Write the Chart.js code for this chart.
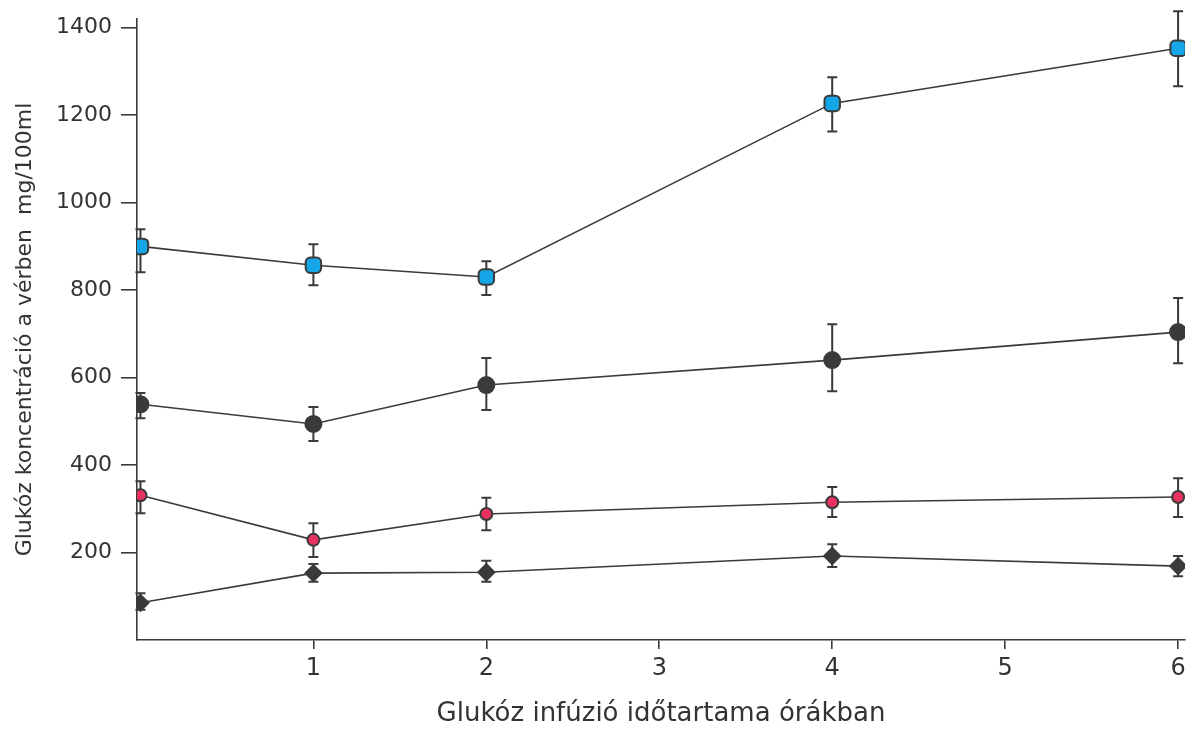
<!DOCTYPE html>
<html>
<head>
<meta charset="utf-8">
<script src="https://cdn.jsdelivr.net/npm/chart.js@4"></script>
<style>
  html, body { margin: 0; padding: 0; background: #fff; }
  #wrap { width: 1199px; height: 730px; }
</style>
</head>
<body>
<div id="wrap"><canvas id="myChart" width="1199" height="730"></canvas></div>
<script>
// hours of glucose infusion
const hours = [0, 1, 2, 4, 6];
const xTicks = [1, 2, 3, 4, 5, 6];
const yTicks = [200, 400, 600, 800, 1000, 1200, 1400];

// top series (blue squares)
const blueMean = [900, 857, 830, 1227, 1353];
const blueLow  = [841, 811, 789, 1163, 1266];
const blueHigh = [939, 905, 866, 1287, 1438];

// large dark circles
const darkMean = [539, 494, 583, 640, 704];
const darkLow  = [507, 455, 526, 569, 633];
const darkHigh = [565, 533, 645, 722, 782];

// red circles
const redMean = [331, 229, 288, 315, 327];
const redLow  = [290, 190, 251, 281, 281];
const redHigh = [363, 267, 325, 350, 370];

// dark diamonds
const diaMean = [85, 153, 155, 192, 169];
const diaLow  = [69, 133, 133, 167, 146];
const diaHigh = [107, 174, 181, 219, 192];

const ink = '#3a3a3a';
const font = "'DejaVu Sans', sans-serif";

function pts(means) {
    return hours.map((h, i) => ({ x: h, y: means[i] }));
}

const errorBars = {
    id: 'errorBars',
    beforeDatasetsDraw(chart) {
        const ctx = chart.ctx;
        const xs = chart.scales.x, ys = chart.scales.y;
        ctx.save();
        ctx.strokeStyle = ink;
        ctx.lineWidth = 2;
        chart.data.datasets.forEach((ds) => {
            hours.forEach((h, i) => {
                const px = xs.getPixelForValue(h);
                const top = ys.getPixelForValue(ds.errHigh[i]);
                const bot = ys.getPixelForValue(ds.errLow[i]);
                ctx.beginPath();
                ctx.moveTo(px, top); ctx.lineTo(px, bot);
                ctx.moveTo(px - 5, top); ctx.lineTo(px + 5, top);
                ctx.moveTo(px - 5, bot); ctx.lineTo(px + 5, bot);
                ctx.stroke();
            })
        })
        ctx.restore();
    }
};

function createChart() {
    const ctx = document.getElementById('myChart').getContext('2d');
    const base = {
        borderColor: ink,
        borderWidth: 1.6,
        pointBorderColor: ink,
        pointBorderWidth: 2,
        tension: 0,
        fill: false
    };
    const config = {
        type: 'line',
        data: {
            datasets: [
                Object.assign({}, base, {
                    label: 'blue', data: pts(blueMean), errLow: blueLow, errHigh: blueHigh,
                    pointStyle: 'rectRounded', pointRadius: 9, pointBackgroundColor: '#14a6e6'
                }),
                Object.assign({}, base, {
                    label: 'dark', data: pts(darkMean), errLow: darkLow, errHigh: darkHigh,
                    pointStyle: 'circle', pointRadius: 8, pointBackgroundColor: ink
                }),
                Object.assign({}, base, {
                    label: 'red', data: pts(redMean), errLow: redLow, errHigh: redHigh,
                    pointStyle: 'circle', pointRadius: 6, pointBackgroundColor: '#e8315f'
                }),
                Object.assign({}, base, {
                    label: 'diamond', data: pts(diaMean), errLow: diaLow, errHigh: diaHigh,
                    pointStyle: 'rectRot', pointRadius: 8, pointBackgroundColor: ink
                })
            ]
        },
        options: {
            responsive: false,
            animation: false,
            layout: { padding: { top: 19, right: 14, bottom: 0, left: 0 } },
            plugins: {
                legend: { display: false },
                tooltip: { enabled: false }
            },
            scales: {
                x: {
                    type: 'linear',
                    min: -0.02,
                    max: 6.04,
                    afterBuildTicks: (s) => { s.ticks = xTicks.map(v => ({ value: v })) },
                    afterFit: (s) => { s.height = 90 },
                    border: { display: true, color: ink, width: 1.6 },
                    grid: { display: true, drawOnChartArea: false, drawTicks: true, tickLength: 9, color: ink, lineWidth: 1.6 },
                    ticks: { color: '#333', font: { family: font, size: 24 }, padding: 5, callback: (v) => String(v) },
                    title: {
                        display: true,
                        text: 'Glukóz infúzió időtartama órákban',
                        color: '#333',
                        font: { family: font, size: 26 },
                        padding: { top: 10, bottom: 0 }
                    }
                },
                y: {
                    min: 0,
                    max: 1420,
                    afterBuildTicks: (s) => { s.ticks = yTicks.map(v => ({ value: v })) },
                    afterFit: (s) => { s.width = 137; s.paddingTop = 0; s.paddingBottom = 0 },
                    border: { display: true, color: ink, width: 1.6 },
                    grid: { display: true, drawOnChartArea: false, drawTicks: true, tickLength: 16, color: ink, lineWidth: 1.6 },
                    ticks: { color: '#333', font: { family: font, size: 22 }, padding: 9, callback: (v) => String(v) },
                    title: {
                        display: true,
                        text: 'Glukóz koncentráció a vérben  mg/100ml',
                        color: '#333',
                        font: { family: font, size: 22 },
                        padding: { top: 12, bottom: 4 }
                    }
                }
            }
        },
        plugins: [errorBars]
    };
    new Chart(ctx, config);
}

createChart();
</script>
</body>
</html>
